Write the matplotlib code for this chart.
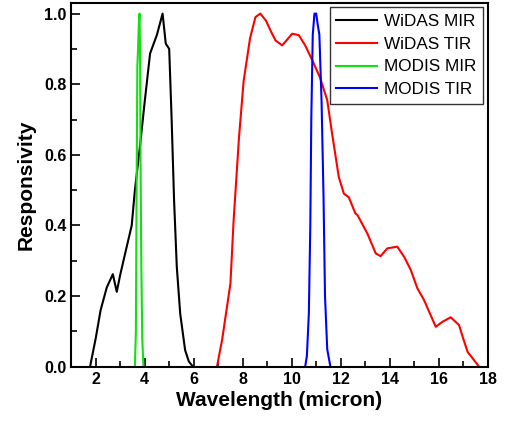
import numpy as np
import matplotlib
matplotlib.use("Agg")
import matplotlib.pyplot as plt
from matplotlib.ticker import MultipleLocator

plt.rcParams['font.family'] = ['Liberation Sans', 'DejaVu Sans']

# WiDAS MIR (black)
widas_mir_x = [1.77, 2.0, 2.2, 2.45, 2.7, 2.86, 3.0, 3.2, 3.47, 3.6, 3.8, 4.0, 4.22,
               4.5, 4.73, 4.86, 5.0, 5.1, 5.2, 5.31, 5.45, 5.65, 5.8, 5.97]
widas_mir_y = [0.0, 0.08, 0.16, 0.224, 0.262, 0.212, 0.26, 0.32, 0.40, 0.50, 0.62, 0.75, 0.887,
               0.94, 1.0, 0.915, 0.90, 0.70, 0.47, 0.283, 0.15, 0.047, 0.015, 0.0]

# WiDAS TIR (red)
widas_tir_x = [6.95, 7.16, 7.5, 7.63, 7.85, 8.04, 8.3, 8.52, 8.72, 8.95, 9.15, 9.34, 9.61,
               9.8, 10.02, 10.29, 10.55, 10.84, 11.15, 11.45, 11.65, 11.92, 12.13, 12.33,
               12.6, 12.68, 13.09, 13.43, 13.63, 13.9, 14.31, 14.6, 14.86, 15.13, 15.4,
               15.88, 16.15, 16.49, 16.83, 17.0, 17.18, 17.65]
widas_tir_y = [0.0, 0.076, 0.236, 0.415, 0.65, 0.81, 0.93, 0.99, 1.0, 0.98, 0.95, 0.924, 0.91,
               0.925, 0.943, 0.939, 0.91, 0.868, 0.82, 0.755, 0.66, 0.538, 0.49, 0.48,
               0.434, 0.43, 0.377, 0.321, 0.313, 0.335, 0.34, 0.31, 0.274, 0.222, 0.189,
               0.113, 0.127, 0.14, 0.118, 0.08, 0.042, 0.0]

# MODIS MIR (green)
modis_mir_x = [3.60, 3.64, 3.67, 3.70, 3.73, 3.76, 3.79, 3.81, 3.83, 3.86, 3.90, 3.95]
modis_mir_y = [0.0, 0.1, 0.5, 0.85, 0.90, 0.97, 1.0, 0.9, 0.6, 0.3, 0.08, 0.0]

# MODIS TIR (blue)
modis_tir_x = [10.55, 10.62, 10.70, 10.76, 10.80, 10.86, 10.93, 11.0, 11.06, 11.13,
               11.22, 11.30, 11.36, 11.45, 11.58]
modis_tir_y = [0.0, 0.03, 0.15, 0.4, 0.7, 0.94, 1.0, 1.0, 0.97, 0.94,
               0.75, 0.48, 0.2, 0.05, 0.0]


def main():
    fig = plt.figure(figsize=(5.06, 4.23), dpi=100)
    ax = fig.add_axes([0.1407, 0.1331, 0.8231, 0.8598])

    ax.plot(widas_mir_x, widas_mir_y, color='black', lw=1.5, label='WiDAS MIR')
    ax.plot(widas_tir_x, widas_tir_y, color='red', lw=1.5, label='WiDAS TIR')
    ax.plot(modis_mir_x, modis_mir_y, color='#11e011', lw=1.5, label='MODIS MIR')
    ax.plot(modis_tir_x, modis_tir_y, color='blue', lw=1.5, label='MODIS TIR')

    ax.set_xlim(1, 18)
    ax.set_ylim(0, 1.03)
    ax.xaxis.set_major_locator(MultipleLocator(2))
    ax.xaxis.set_minor_locator(MultipleLocator(1))
    ax.yaxis.set_major_locator(MultipleLocator(0.2))
    ax.yaxis.set_minor_locator(MultipleLocator(0.1))
    ax.yaxis.set_major_formatter(plt.FormatStrFormatter('%.1f'))
    ax.tick_params(which='both', direction='in', top=False, right=False, width=1.2)
    ax.tick_params(which='major', length=6.5, labelsize=11.5)
    ax.tick_params(which='minor', length=4)
    for lab in ax.get_xticklabels() + ax.get_yticklabels():
        lab.set_fontweight('bold')
    for sp in ax.spines.values():
        sp.set_linewidth(1.5)

    ax.set_xlabel('Wavelength (micron)', fontsize=15, fontweight='bold', labelpad=3)
    ax.set_ylabel('Responsivity', fontsize=15, fontweight='bold', labelpad=6)

    leg = ax.legend(loc='upper right', fontsize=12.3, handlelength=2.4, fancybox=False,
                    framealpha=1, edgecolor='#333333', borderaxespad=0.25,
                    labelspacing=0.45, handletextpad=0.4, borderpad=0.4)
    leg.get_frame().set_linewidth(1.0)

    plt.savefig('out.png', dpi=100)


if __name__ == '__main__':
    main()
